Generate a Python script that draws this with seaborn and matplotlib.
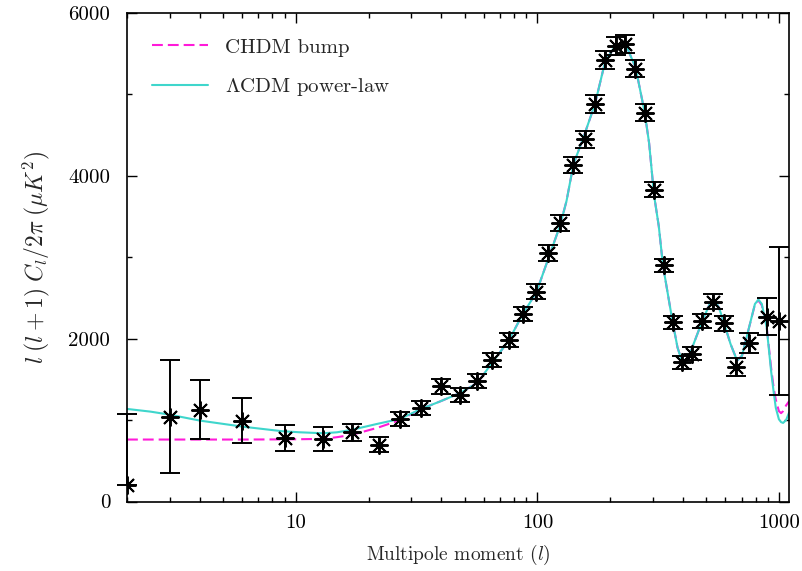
import numpy as np
import pandas as pd
import matplotlib
matplotlib.use("Agg")
import matplotlib.pyplot as plt
import seaborn as sns
from matplotlib.ticker import FixedLocator, FixedFormatter, NullFormatter

# ---- data points (multipole, power, error) ----
pt_l = [2, 3, 4, 6, 9, 13, 17, 22, 27, 33, 40, 48, 56, 65, 76, 87, 99, 111, 124,
        140, 157, 173, 191, 211, 231, 253, 279, 305, 333, 363, 398, 437, 481,
        534, 591, 666, 752, 889, 1000]
pt_v = [205, 1043, 1129, 994, 785, 769, 850, 696, 1015, 1150, 1415, 1309, 1476,
        1740, 1984, 2303, 2577, 3051, 3420, 4135, 4450, 4880, 5420, 5595, 5623,
        5317, 4777, 3830, 2904, 2200, 1709, 1812, 2221, 2454, 2188, 1656, 1947,
        2270, 2221]
pt_err_lo = [0, 690, 365, 275, 160, 150, 105, 92, 90, 90, 90, 85, 85, 85, 85, 90,
             90, 95, 100, 100, 105, 110, 110, 110, 110, 100, 100, 90, 80, 80, 80,
             80, 85, 90, 95, 110, 125, 230, 910]
pt_err_hi = [865, 690, 365, 275, 160, 150, 105, 92, 90, 90, 90, 85, 85, 85, 85, 90,
             90, 95, 100, 100, 105, 110, 110, 110, 110, 100, 100, 90, 80, 80, 80,
             80, 85, 90, 95, 110, 125, 230, 910]

# ---- model curves ----
curve_l = [2, 2.5, 3, 4, 6, 8.8, 10.4, 13, 14.8, 17, 21.7, 27, 33, 40, 48, 56.6,
           64, 76, 87, 99, 112, 124, 132, 141, 155, 173, 191, 210, 224, 235, 255,
           278, 290, 304, 318, 331, 362, 380, 398, 417, 443, 482, 520, 537, 564,
           591, 630, 671, 703, 746, 795, 822, 849, 889, 927, 950, 970, 999, 1020,
           1040, 1070, 1100]
lcdm_v = [1137, 1104, 1067, 994, 920, 863, 850, 838, 850, 880, 953, 1015, 1137,
          1235, 1335, 1460, 1680, 1975, 2303, 2568, 3018, 3387, 3693, 4143, 4470,
          4880, 5411, 5595, 5636, 5575, 5329, 4777, 4400, 3760, 3380, 2896, 2221,
          1893, 1709, 1730, 1935, 2221, 2445, 2487, 2384, 2200, 1935, 1730, 1791,
          2098, 2426, 2480, 2426, 2139, 1607, 1350, 1150, 1010, 975, 965, 1000,
          1090]
chdm_v = [761, 761, 761, 761, 761, 763, 765, 769, 790, 818, 904, 1000, 1137,
          1235, 1335, 1460, 1680, 1975, 2303, 2568, 3018, 3387, 3693, 4143, 4470,
          4880, 5411, 5595, 5636, 5575, 5329, 4777, 4400, 3760, 3380, 2896, 2221,
          1893, 1709, 1730, 1935, 2221, 2445, 2487, 2384, 2200, 1935, 1730, 1791,
          2098, 2420, 2470, 2410, 2150, 1650, 1400, 1250, 1110, 1085, 1110, 1180,
          1230]

labels = ["CHDM bump", r"$\Lambda$CDM power-law"]
colors = ["#ff1ad9", "#3fd6cc"]

xticks_major = [10, 100, 1000]
xtick_labels = ["10", "100", "1000"]
yticks_major = [0, 2000, 4000, 6000]
ytick_labels = ["0", "2000", "4000", "6000"]
yticks_minor = [1000, 3000, 5000]

sns.set_theme(style="ticks")
plt.rcParams["mathtext.fontset"] = "cm"
plt.rcParams["font.family"] = ["cmr10", "DejaVu Serif"]
plt.rcParams["axes.formatter.use_mathtext"] = True
plt.rcParams["axes.unicode_minus"] = False

fig = plt.figure(figsize=(8.03, 5.71), dpi=100)
ax = fig.add_axes([127 / 803, 1 - 501.5 / 571, (789 - 127) / 803, (501.5 - 13) / 571])

df = pd.DataFrame({
    "l": curve_l * 2,
    "v": chdm_v + lcdm_v,
    "model": [labels[0]] * len(curve_l) + [labels[1]] * len(curve_l),
})
sns.lineplot(data=df, x="l", y="v", hue="model", style="model",
             palette=dict(zip(labels, colors)),
             dashes={labels[0]: (5.2, 2.4), labels[1]: ""},
             linewidth=1.5, ax=ax, sort=False, estimator=None)

ax.errorbar(pt_l, pt_v, yerr=[pt_err_lo, pt_err_hi], fmt="none", ecolor="black",
            elinewidth=1.4, capsize=7, capthick=1.4, clip_on=False, zorder=4)
ax.plot(pt_l, pt_v, linestyle="none", marker=(8, 2, 0), markersize=13,
        markeredgewidth=1.4, color="black", zorder=5)

ax.set_xscale("log")
ax.set_xlim(2, 1100)
ax.set_ylim(0, 6000)

ax.xaxis.set_major_locator(FixedLocator(xticks_major))
ax.xaxis.set_major_formatter(FixedFormatter(xtick_labels))
ax.xaxis.set_minor_formatter(NullFormatter())
ax.yaxis.set_major_locator(FixedLocator(yticks_major))
ax.yaxis.set_major_formatter(FixedFormatter(ytick_labels))
ax.yaxis.set_minor_locator(FixedLocator(yticks_minor))

ax.tick_params(which="both", direction="in", top=True, right=True,
               labelsize=15, colors="black")
ax.tick_params(axis="y", pad=12)
ax.tick_params(axis="x", pad=9)
ax.tick_params(which="major", length=7, width=1.0)
ax.tick_params(which="minor", length=3.5, width=1.0)
for sp in ax.spines.values():
    sp.set_visible(True)
    sp.set_color("black")
    sp.set_linewidth(1.2)

ax.set_xlabel(r"Multipole moment $(l)$", fontsize=14, labelpad=8)
ax.set_ylabel(r"$l\;(l+1)\;C_l/2\pi\;(\mu K^2)$", fontsize=17, labelpad=12)

leg = ax.legend(loc="upper left", frameon=False, fontsize=15, handlelength=2.7,
                handletextpad=0.8, labelspacing=0.95, borderaxespad=0.8)

fig.savefig("out.png", dpi=100)
